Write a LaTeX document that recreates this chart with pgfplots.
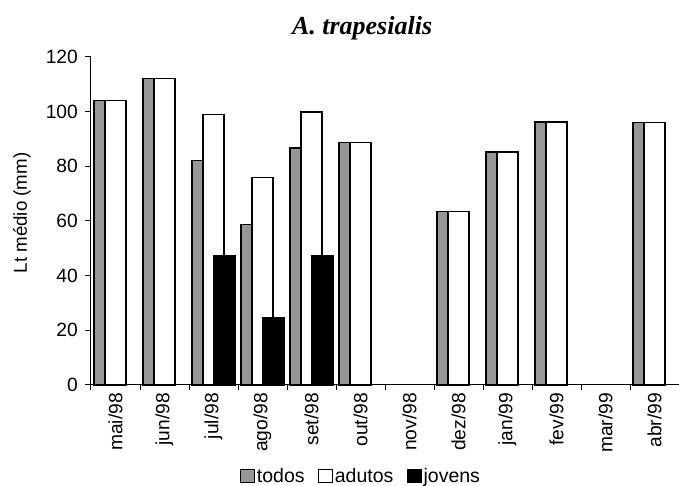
\documentclass[border=0pt]{standalone}
\usepackage{fontspec}
\setmainfont{Liberation Sans}
\newfontfamily\titlefont{Liberation Serif}
\usepackage{pgfplots}
\pgfplotsset{compat=1.18}
\definecolor{todoscol}{RGB}{150,150,150}
\newcommand\labelfont{\fontsize{18.7}{22}\selectfont}
\newcommand\tickfont{\fontsize{19.2}{23}\selectfont}

\pgfplotsset{
  sqlegend/.style={legend image code/.code={%
    \draw[##1,line width=1.2pt,bar shift=0pt] (0pt,-6.5pt) rectangle (14pt,7pt);}},
}

\begin{document}
\begin{tikzpicture}
\path[use as bounding box] (-91pt,-101pt) rectangle (588pt,385pt);
\begin{axis}[
  scale only axis,
  width=588pt, height=328.3pt,
  xmin=-0.5, xmax=11.5, ymin=0, ymax=120,
  axis lines*=left,
  axis line style={line width=1pt},
  every tick/.style={black,line width=1pt},
  tick align=outside,
  major tick length=6pt,
  minor tick length=5pt,
  ytick={0,20,...,120},
  xtick={0,...,11},
  major x tick style={draw=none},
  minor xtick={-0.5,0.5,...,11.5},
  xticklabels={mai/98,jun/98,jul/98,ago/98,set/98,out/98,nov/98,dez/98,jan/99,fev/99,mar/99,abr/99},
  xticklabel style={rotate=90,anchor=east,inner sep=0pt,font=\tickfont},
  xticklabel shift=2pt,
  yticklabel style={inner sep=0pt,font=\tickfont},
  yticklabel shift=7pt,
  /pgf/number format/assume math mode=true,
  ylabel={Lt médio (mm)},
  ylabel style={at={(axis description cs:-0.1173,0.524)},anchor=center,rotate=0,
    font=\labelfont},
  title={\titlefont\bfseries\itshape A. trapesialis},
  title style={at={(axis description cs:0.461,1.048)},anchor=base,
    font=\fontsize{26}{30}\selectfont,inner sep=0pt},
  legend columns=-1,
  legend style={at={(axis description cs:0.459,-0.278)},anchor=center,
    draw=none,fill=none,inner sep=0pt,
    font=\fontsize{19.5}{23}\selectfont,
    /tikz/every even column/.append style={column sep=12pt},
    nodes={inner sep=1.5pt}},
  clip=false,
]
% all fish
\addplot[ybar,bar width=0.43,bar shift=-0.224,fill=todoscol,draw=black,line width=1.2pt,sqlegend]
  coordinates {(0,104) (1,112) (2,82) (3,58.8) (4,86.6) (5,88.6) (7,63.4) (8,85.2) (9,96.1) (11,96.0)};
% adults
\addplot[ybar,bar width=0.43,bar shift=0,fill=white,draw=black,line width=1.2pt,sqlegend]
  coordinates {(0,104) (1,112) (2,99) (3,75.8) (4,99.8) (5,88.6) (7,63.4) (8,85.2) (9,96.1) (11,96.0)};
% juveniles
\addplot[ybar,bar width=0.43,bar shift=0.224,fill=black,draw=black,line width=1.2pt,sqlegend]
  coordinates {(2,47.3) (3,24.7) (4,47.3)};
\legend{todos,adutos,jovens}
\end{axis}
\end{tikzpicture}
\end{document}
